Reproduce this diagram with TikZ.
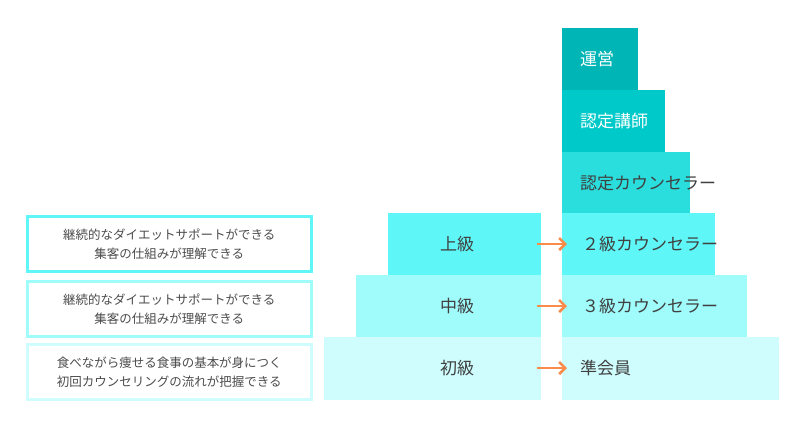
\documentclass[tikz,border=0pt]{standalone}
\usepackage{fontspec}
\setmainfont{Noto Sans CJK JP}
\begin{document}
\begin{tikzpicture}[x=1pt,y=-1pt,
  blk/.style={anchor=north west,inner sep=0pt,outer sep=0pt,minimum height=62pt},
  lbl/.style={anchor=west,font=\fontsize{17}{20}\selectfont,text=black!75,inner sep=0pt},
  desc/.style={anchor=north west,draw,line width=2.5pt,fill=white,minimum height=55pt,minimum width=284pt,inner sep=0pt,align=center,text=black!70,font=\fontsize{12.5}{19}\selectfont},
  arr/.style={draw=orange!70!red!60!yellow,color={rgb,255:red,249;green,139;blue,75},line width=2.5pt,->,>={Straight Barb[length=6pt,width=11pt]}}]
\usetikzlibrary{arrows.meta}
\useasboundingbox (0,0) rectangle (804,429);
\definecolor{c1}{HTML}{00B5B5}\definecolor{c2}{HTML}{00C9C9}\definecolor{c3}{HTML}{2ADEDE}
\definecolor{c4}{HTML}{5EF6F6}\definecolor{c5}{HTML}{A0FBFB}\definecolor{c6}{HTML}{CFFDFD}
\definecolor{arc}{HTML}{F98B4B}
% right column
\node[blk,fill=c1,minimum width=76pt] (r1) at (562,28) {};
\node[blk,fill=c2,minimum width=103pt] (r2) at (562,90) {};
\node[blk,fill=c3,minimum width=128pt,minimum height=61pt] (r3) at (562,152) {};
\node[blk,fill=c4,minimum width=153pt] (r4) at (562,213) {};
\node[blk,fill=c5,minimum width=185pt] (r5) at (562,275) {};
\node[blk,fill=c6,minimum width=217pt,minimum height=63pt] (r6) at (562,337) {};
\node[lbl,text=white] at (580,59) {運営};
\node[lbl,text=white] at (580,121) {認定講師};
\node[lbl] at (580,183) {認定カウンセラー};
\node[lbl] at (582,244) {２級カウンセラー};
\node[lbl] at (582,306) {３級カウンセラー};
\node[lbl] (t6) at (580,368) {準会員};
% left column
\node[blk,fill=c4,minimum width=153pt] (l1) at (388,213) {};
\node[blk,fill=c5,minimum width=185pt] (l2) at (356,275) {};
\node[blk,fill=c6,minimum width=217pt,minimum height=63pt] (l3) at (324,337) {};
\node[font=\fontsize{17}{20}\selectfont,text=black!75] at (457,244) {上級};
\node[font=\fontsize{17}{20}\selectfont,text=black!75] at (457,306) {中級};
\node[font=\fontsize{17}{20}\selectfont,text=black!75] at (457,368) {初級};
% arrows
\coordinate (a1) at (537,244); \coordinate (b1) at (567,244);
\coordinate (a2) at (537,306); \coordinate (b2) at (567,306);
\coordinate (a3) at (537,368); \coordinate (b3) at (567,368);
\foreach \i in {1,2,3} \draw[line width=2.5pt,draw=arc,-{Straight Barb[length=6pt,width=12pt]}] (a\i) -- (b\i);
% description boxes
\node[desc,draw=c4] (d1) at (26,215) {継続的なダイエットサポートができる\\集客の仕組みが理解できる};
\node[desc,draw=c5] (d2) at (26,280) {継続的なダイエットサポートができる\\集客の仕組みが理解できる};
\node[desc,draw=c6] (d3) at (26,343) {食べながら痩せる食事の基本が身につく\\初回カウンセリングの流れが把握できる};
\end{tikzpicture}
\end{document}
